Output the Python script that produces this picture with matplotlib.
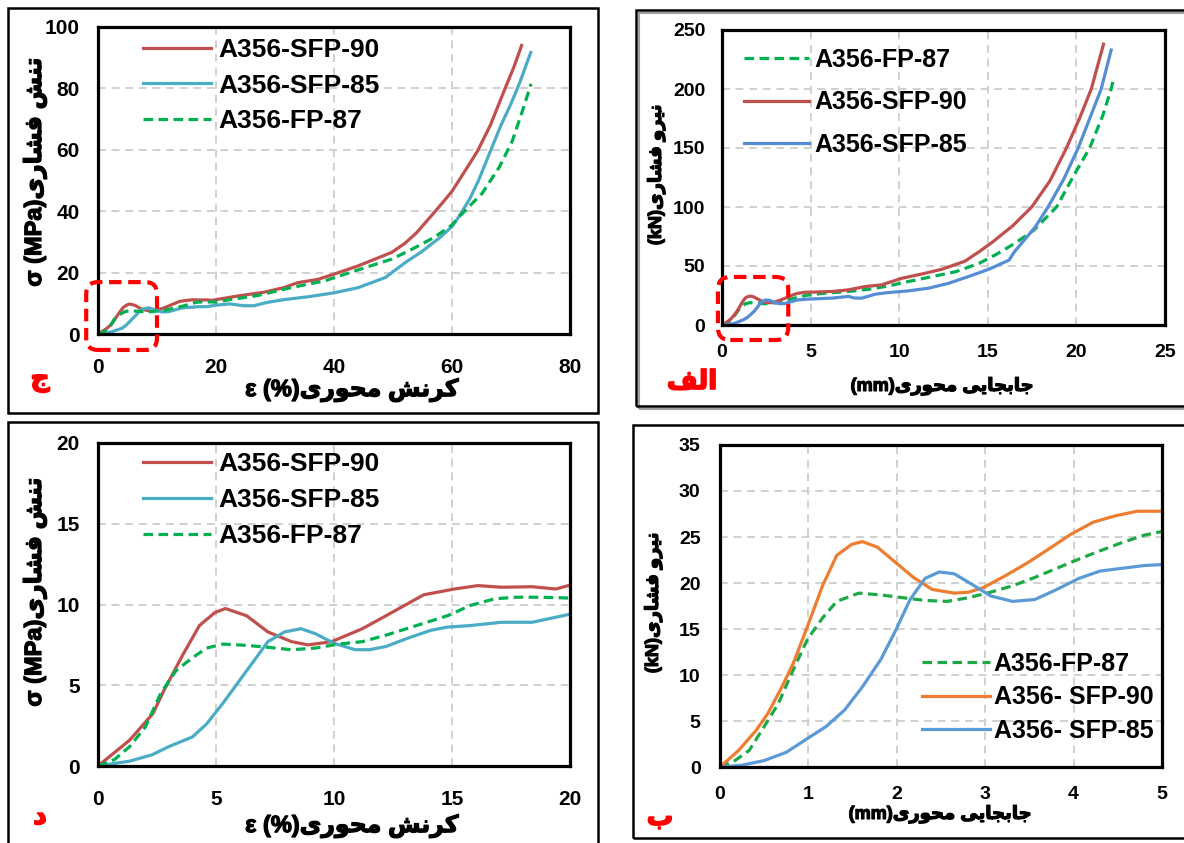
import matplotlib
matplotlib.use("Agg")
import matplotlib.pyplot as plt
import matplotlib.patheffects as pe
from matplotlib.patches import FancyBboxPatch, Rectangle
from matplotlib.lines import Line2D

plt.rcParams["font.family"] = ["Liberation Sans", "DejaVu Sans"]
plt.rcParams["font.weight"] = "bold"

# ---- stress / strain (panels ج and د) ----
strain_sfp90 = [0, 1.34, 2.33, 2.8, 3.6, 4.3, 4.95, 5.4, 6.3, 7.2, 8.2, 8.9, 9.9, 11.2, 12.2,
                13.8, 15.1, 16.1, 17.1, 18.4, 19.4, 20.0, 24.1, 28.1, 31.5, 33.8, 37.3, 40.0,
                44.1, 49.8, 52.0, 54.0, 56.5, 58.5, 60.0, 62.0, 64.3, 66.5, 69.0, 70.5, 71.8]
stress_sfp90 = [0, 1.6, 3.25, 4.7, 6.9, 8.7, 9.5, 9.75, 9.3, 8.3, 7.7, 7.5, 7.7, 8.5, 9.3,
                10.6, 10.96, 11.17, 11.07, 11.1, 10.96, 11.2, 12.5, 13.6, 15.1, 16.7, 17.8, 19.5,
                22.2, 26.6, 29.5, 33.0, 38.5, 43.0, 46.5, 52.5, 59.5, 68.0, 80.0, 87.0, 94.0]

strain_sfp85 = [0, 1.34, 2.3, 3.0, 4.0, 4.6, 5.3, 5.9, 6.6, 7.2, 7.9, 8.6, 9.2, 10.0, 10.9,
                11.5, 12.2, 13.1, 14.1, 14.8, 15.8, 17.1, 18.4, 20.0, 22.4, 24.7, 26.4, 28.7,
                31.5, 35.5, 40.0, 44.1, 48.7, 52.1, 55.0, 58.0, 60.0, 61.1, 63.0, 64.5, 66.6,
                68.3, 70.0, 71.5, 73.35]
stress_sfp85 = [0, 0.3, 0.7, 1.2, 1.8, 2.6, 3.9, 5.1, 6.5, 7.7, 8.3, 8.5, 8.2, 7.6, 7.2,
                7.2, 7.4, 7.9, 8.4, 8.6, 8.7, 8.9, 8.9, 9.4, 9.8, 9.2, 9.2, 10.3,
                11.2, 12.1, 13.4, 15.1, 18.4, 23.3, 27.0, 31.5, 35.0, 38.0, 44.0, 50.0, 60.0,
                68.0, 75.0, 82.0, 91.7]

strain_fp87 = [0, 0.7, 1.34, 2.0, 2.66, 3.3, 4.0, 4.6, 5.3, 6.3, 7.2, 8.2, 9.2, 10.2, 11.2,
               12.2, 13.5, 14.8, 15.8, 16.8, 17.7, 18.7, 20.0, 22.4, 27.0, 32.7, 38.4, 44.1,
               49.8, 53.3, 57.0, 60.0, 61.1, 65.1, 68.0, 70.2, 71.9, 73.4]
stress_fp87 = [0, 0.4, 1.2, 2.4, 4.5, 5.9, 6.7, 7.3, 7.55, 7.47, 7.35, 7.2, 7.3, 7.55, 7.7,
               8.1, 8.7, 9.3, 9.95, 10.35, 10.45, 10.45, 10.4, 11.2, 12.5, 15.1, 17.3, 20.9,
               24.4, 27.7, 31.5, 35.5, 38.0, 45.8, 54.3, 62.8, 72.4, 81.5]

# ---- force / displacement (panels الف and ب) ----
disp_sfp90 = [0, 0.21, 0.41, 0.54, 0.7, 0.83, 0.99, 1.16, 1.32, 1.49, 1.61, 1.78, 1.99, 2.19,
              2.4, 2.65, 2.81, 2.98, 3.23, 3.48, 3.72, 3.97, 4.22, 4.47, 4.72, 5.0, 6.2, 7.14,
              8.08, 9.0, 10.15, 11.3, 12.4, 13.7, 14.5, 15.24, 16.4, 17.48, 18.5, 19.44, 20.2,
              20.84, 21.53]
force_sfp90 = [0, 1.8, 4.0, 5.8, 8.7, 11.3, 15.3, 19.7, 23.0, 24.2, 24.5, 23.9, 22.2, 20.6,
               19.3, 18.9, 19.0, 19.5, 20.8, 22.2, 23.7, 25.3, 26.6, 27.3, 27.8, 27.8, 28.4, 29.8,
               32.6, 34.0, 39.6, 43.3, 47.2, 54.0, 62.0, 70.0, 84.0, 100.0, 122.0, 150.0, 176.0,
               200.0, 238.0]

disp_sfp85 = [0, 0.25, 0.5, 0.75, 0.99, 1.2, 1.41, 1.61, 1.82, 1.99, 2.15, 2.32, 2.48, 2.65,
              2.86, 3.06, 3.31, 3.56, 3.81, 4.06, 4.3, 4.55, 4.8, 5.0, 6.2, 7.14, 7.5, 7.9,
              8.64, 9.4, 10.5, 11.66, 12.8, 13.9, 15.05, 16.2, 16.5, 17.67, 18.4, 19.3, 20.1,
              21.4, 21.96]
force_sfp85 = [0, 0.2, 0.7, 1.6, 3.1, 4.4, 6.2, 8.7, 11.7, 14.9, 18.2, 20.5, 21.2, 21.0,
               19.8, 18.6, 18.0, 18.2, 19.3, 20.5, 21.3, 21.6, 21.9, 22.0, 22.8, 24.2, 22.8, 22.8,
               26.1, 27.5, 28.9, 31.2, 35.4, 41.0, 47.2, 55.0, 62.0, 82.9, 100.0, 124.0, 150.0,
               200.0, 233.0]

disp_fp87 = [0, 0.17, 0.33, 0.5, 0.66, 0.83, 0.99, 1.16, 1.32, 1.57, 1.82, 2.07, 2.32, 2.57,
             2.81, 3.06, 3.31, 3.56, 3.81, 4.06, 4.3, 4.55, 4.8, 5.0, 5.82, 7.14, 8.27, 9.4,
             10.5, 11.85, 13.2, 14.5, 15.5, 16.5, 17.57, 18.88, 19.9, 20.75, 21.5, 21.96, 22.1]
force_fp87 = [0, 0.7, 1.8, 4.4, 6.9, 10.6, 13.9, 16.2, 18.0, 18.9, 18.7, 18.4, 18.1, 18.0,
              18.4, 19.0, 19.7, 20.6, 21.6, 22.6, 23.5, 24.4, 25.2, 25.6, 27.0, 28.4, 30.3, 33.1,
              36.8, 41.0, 45.2, 52.2, 60.0, 69.0, 80.0, 100.0, 128.0, 150.0, 178.0, 200.0, 208.6]

# ---- Persian labels (shaped by hand: presentation forms, visual order) ----
FORMS = {
    "ا": ("\uFE8D", "\uFE8E", None, None),
    "ب": ("\uFE8F", "\uFE90", "\uFE91", "\uFE92"),
    "ت": ("\uFE95", "\uFE96", "\uFE97", "\uFE98"),
    "ج": ("\uFE9D", "\uFE9E", "\uFE9F", "\uFEA0"),
    "ح": ("\uFEA1", "\uFEA2", "\uFEA3", "\uFEA4"),
    "د": ("\uFEA9", "\uFEAA", None, None),
    "ر": ("\uFEAD", "\uFEAE", None, None),
    "ش": ("\uFEB5", "\uFEB6", "\uFEB7", "\uFEB8"),
    "ف": ("\uFED1", "\uFED2", "\uFED3", "\uFED4"),
    "ل": ("\uFEDD", "\uFEDE", "\uFEDF", "\uFEE0"),
    "م": ("\uFEE1", "\uFEE2", "\uFEE3", "\uFEE4"),
    "ن": ("\uFEE5", "\uFEE6", "\uFEE7", "\uFEE8"),
    "و": ("\uFEED", "\uFEEE", None, None),
    "ی": ("\uFBFC", "\uFBFD", "\uFBFE", "\uFBFF"),
    "ک": ("\uFB8E", "\uFB8F", "\uFB90", "\uFB91"),
}


def fa(text):
    out = []
    for i, ch in enumerate(text):
        if ch not in FORMS:
            out.append(ch)
            continue
        iso, fin, ini, med = FORMS[ch]
        prev = text[i - 1] if i > 0 else ""
        nxt = text[i + 1] if i + 1 < len(text) else ""
        jp = prev in FORMS and FORMS[prev][2] is not None
        jn = ini is not None and nxt in FORMS
        out.append(med if jp and jn else fin if jp else ini if jn else iso)
    return "".join(out)[::-1]


W, H = 1184, 843
fig = plt.figure(figsize=(W / 100, H / 100), dpi=100)


def fx(x):
    return x / W


def fy(y):
    return 1 - y / H


def add_axes(l, t, r, b):
    return fig.add_axes([fx(l), fy(b), fx(r - l), (b - t) / H])


def style(ax, xt, yt, xpad=17, ypad=13, size=15):
    ax.set_xlim(xt[0], xt[-1])
    ax.set_ylim(yt[0], yt[-1])
    ax.set_xticks(xt)
    ax.set_yticks(yt)
    ax.tick_params(length=0, labelsize=size)
    ax.tick_params(axis="x", pad=xpad)
    ax.tick_params(axis="y", pad=ypad)
    ax.grid(True, color="#D0D0D0", linestyle=(0, (4, 3)), linewidth=1.4)
    ax.set_axisbelow(True)
    for s in ax.spines.values():
        s.set_linewidth(2.3)
        s.set_color("black")


def panel_box(l, t, r, b, shadow=False):
    if shadow:
        fig.patches.append(Rectangle((fx(l + 3), fy(b + 3)), fx(r - l), (b - t) / H,
                                     transform=fig.transFigure, fill=False,
                                     edgecolor="#A0A0A0", linewidth=1.5))
    fig.patches.append(Rectangle((fx(l), fy(b)), fx(r - l), (b - t) / H,
                                 transform=fig.transFigure, fill=False,
                                 edgecolor="black", linewidth=1.8))


GREEN_DASH = (0, (3, 1.7))
LW = 2.3
LEG = dict(frameon=False, borderpad=0, borderaxespad=0)

panel_box(8, 8, 598, 413)
panel_box(636, 10, 1190, 406, shadow=True)
panel_box(8, 422, 598, 852)
panel_box(633, 425, 1190, 838)

# ---- ج : full stress-strain ----
ax1 = add_axes(98, 27, 570, 334)
style(ax1, [0, 20, 40, 60, 80], [0, 20, 40, 60, 80, 100])
ax1.plot(strain_sfp90, stress_sfp90, color="#C0504D", lw=LW, label="A356-SFP-90")
ax1.plot(strain_sfp85, stress_sfp85, color="#4BACC6", lw=LW, label="A356-SFP-85")
ax1.plot(strain_fp87, stress_fp87, color="#00B050", lw=LW, ls=GREEN_DASH, label="A356-FP-87")
ax1.legend(loc="upper left", bbox_to_anchor=(0.095, 0.965), fontsize=19, handlelength=2.6,
           handletextpad=0.25, labelspacing=0.45, **LEG)
ax1.add_patch(FancyBboxPatch((-2.0, -5.2), 12.0, 22.1, boxstyle="round,pad=0,rounding_size=2.0",
                             mutation_aspect=1.92, fill=False, edgecolor="#FF0000",
                             linewidth=3, linestyle=(0, (3, 1.6)), clip_on=False, zorder=5))

# ---- د : zoom of stress-strain ----
ax3 = add_axes(98, 443, 570, 766)
style(ax3, [0, 5, 10, 15, 20], [0, 5, 10, 15, 20])
ax3.plot(strain_sfp90, stress_sfp90, color="#C0504D", lw=LW, label="A356-SFP-90")
ax3.plot(strain_sfp85, stress_sfp85, color="#4BACC6", lw=LW, label="A356-SFP-85")
ax3.plot(strain_fp87, stress_fp87, color="#00B050", lw=LW, ls=GREEN_DASH, label="A356-FP-87")
ax3.legend(loc="upper left", bbox_to_anchor=(0.095, 0.972), fontsize=19, handlelength=2.6,
           handletextpad=0.25, labelspacing=0.45, **LEG)

# ---- الف : full force-displacement ----
ax2 = add_axes(722, 30, 1165, 325)
style(ax2, [0, 5, 10, 15, 20, 25], [0, 50, 100, 150, 200, 250], xpad=14, ypad=12, size=14)
ax2.plot(disp_fp87, force_fp87, color="#00B050", lw=LW, ls=GREEN_DASH, label="A356-FP-87")
ax2.plot(disp_sfp90, force_sfp90, color="#C0504D", lw=LW, label="A356-SFP-90")
ax2.plot(disp_sfp85, force_sfp85, color="#558ED5", lw=LW, label="A356-SFP-85")
ax2.legend(loc="upper left", bbox_to_anchor=(0.05, 0.94), fontsize=18, handlelength=2.6,
           handletextpad=0.2, labelspacing=0.75, **LEG)
ax2.add_patch(FancyBboxPatch((-0.23, -12.7), 3.97, 53.4, boxstyle="round,pad=0,rounding_size=0.7",
                             mutation_aspect=15.0, fill=False, edgecolor="#FF0000",
                             linewidth=3, linestyle=(0, (3, 1.6)), clip_on=False, zorder=5))

# ---- ب : zoom of force-displacement ----
ax4 = add_axes(720, 445, 1162, 767)
style(ax4, [0, 1, 2, 3, 4, 5], [0, 5, 10, 15, 20, 25, 30, 35], xpad=14, ypad=14, size=14)
ax4.plot(disp_fp87, force_fp87, color="#1FA846", lw=LW, ls=GREEN_DASH)
ax4.plot(disp_sfp90, force_sfp90, color="#ED7D31", lw=LW)
ax4.plot(disp_sfp85, force_sfp85, color="#5B9BD5", lw=LW)
handles4 = [Line2D([], [], color="#1FA846", lw=LW, ls=GREEN_DASH),
            Line2D([], [], color="#ED7D31", lw=LW),
            Line2D([], [], color="#5B9BD5", lw=LW)]
ax4.legend(handles4, ["A356-FP-87", "A356- SFP-90", "A356- SFP-85"], loc="lower right",
           bbox_to_anchor=(0.98, 0.075), fontsize=18, handlelength=2.7,
           handletextpad=0.15, labelspacing=0.38, **LEG)

# ---- axis titles and panel letters ----
ylab_s = "σ (MPa)" + fa("تنش فشاری")
xlab_s = "ε (%)" + fa("کرنش محوری")
ylab_f = "(kN)" + fa("نیرو فشاری")
xlab_f = "(mm)" + fa("جابجایی محوری")

thick = [pe.withStroke(linewidth=0.9, foreground="black")]
red_thick = [pe.withStroke(linewidth=1.2, foreground="#FF0000")]

for x, y, s, rot, size in [(35, 172, ylab_s, 90, 17), (35, 592, ylab_s, 90, 17),
                           (352, 390, xlab_s, 0, 17), (352, 826, xlab_s, 0, 17),
                           (656, 175, ylab_f, 90, 13), (653, 603, ylab_f, 90, 13),
                           (942, 386, xlab_f, 0, 13), (940, 814, xlab_f, 0, 13)]:
    fig.text(fx(x), fy(y), s, rotation=rot, ha="center", va="center", fontsize=size,
             path_effects=thick)

for x, y, s in [(40, 381, "ج"), (692, 382, "الف"), (40, 817, "د"), (660, 818, "ب")]:
    fig.text(fx(x), fy(y), fa(s), color="#FF0000", ha="center", va="center", fontsize=19,
             path_effects=red_thick)

fig.savefig("out.png", dpi=100)
